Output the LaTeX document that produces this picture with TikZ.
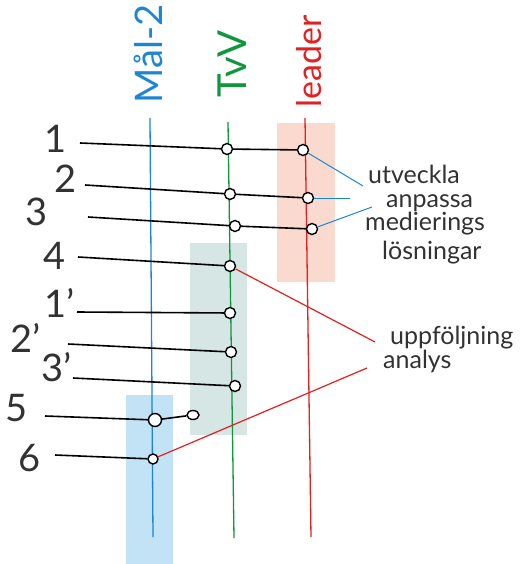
\documentclass[tikz,border=0pt]{standalone}
\usepackage{fontspec}
\setmainfont{Lato}
\usetikzlibrary{shapes.geometric}
\definecolor{malblue}{RGB}{28,134,212}
\definecolor{tvvgreen}{RGB}{16,150,60}
\definecolor{leadred}{RGB}{226,32,32}
\definecolor{leadbox}{RGB}{250,218,206}
\definecolor{tvvbox}{RGB}{214,230,228}
\definecolor{malbox}{RGB}{194,226,246}
\definecolor{inkgray}{RGB}{50,50,50}

\begin{document}
\begin{tikzpicture}[x=1pt, y=-1pt,
    every node/.style={text=inkgray},
    colhead/.style={rotate=90, inner sep=0},
    num/.style={font=\fontsize{38}{38}\selectfont, inner sep=0},
    word/.style={font=\fontsize{25}{25}\selectfont, inner sep=0, anchor=base west},
    dot/.style={circle, draw=black, fill=white, line width=1.4pt, inner sep=0, minimum size=11pt},
    ink/.style={draw=black, line width=1.6pt},
    rule/.style={line width=1.3pt},
    link/.style={malblue, line width=1pt},
    jump/.style={leadred, line width=1.2pt}]

\useasboundingbox (0,0) rectangle (530,564);

% shaded bands
\fill[leadbox] (277,123) rectangle (335,282);
\fill[tvvbox] (190,243) rectangle (247,435);
\fill[malbox] (126,395) rectangle (173,564);

% column heads
\node[colhead, text=malblue, font=\fontsize{38}{38}\selectfont] (mal) at (148,54) {Mål-2};
\node[colhead, text=tvvgreen, font=\fontsize{40}{40}\selectfont] (tvv) at (232,64) {TvV};
\node[colhead, text=leadred, font=\fontsize{34}{34}\selectfont] (lead) at (309,61) {leader};

% vertical lines
\coordinate (mtop) at (150,118);
\coordinate (mbot) at (153,537);
\coordinate (ttop) at (228,122);
\coordinate (tbot) at (234,538);
\coordinate (ltop) at (305,118);
\coordinate (lbot) at (311,537);
\draw[rule, malblue] (mtop) -- (mbot);
\draw[rule, tvvgreen] (ttop) -- (tbot);
\draw[rule, leadred] (ltop) -- (lbot);

% row numbers
\node[num] (n1) at (56,139) {1};
\node[num] (n2) at (66,179) {2};
\node[num] (n3) at (37,212) {3};
\node[num] (n4) at (55,256) {4};
\node[num] (n1p) at (60,303) {1’};
\node[num] (n2p) at (26,338) {2’};
\node[num] (n3p) at (57,367) {3’};
\node[num] (n5) at (17,408) {5};
\node[num] (n6) at (30,458) {6};

% line starts
\coordinate (s1) at (80,143);
\coordinate (s2) at (85,185);
\coordinate (s3) at (88,217);
\coordinate (s4) at (78,257);
\coordinate (s1p) at (77,312);
\coordinate (s2p) at (68,344);
\coordinate (s3p) at (73,378);
\coordinate (s5) at (45,416);
\coordinate (s6) at (55,455);

% dots
\node[dot] (g1) at (227,149) {};
\node[dot] (g2) at (230,194) {};
\node[dot] (g3) at (235,226) {};
\node[dot] (g4) at (230,266) {};
\node[dot] (g1p) at (230,313) {};
\node[dot] (g2p) at (231,352) {};
\node[dot] (g3p) at (235,386) {};
\node[dot] (r1) at (303,150) {};
\node[dot] (r2) at (308,198) {};
\node[dot] (r3) at (312,229) {};
\node[dot, minimum size=13pt] (b5) at (155,420) {};
\node[dot, ellipse, minimum width=12pt, minimum height=9pt] (c5) at (193,415) {};
\node[dot, minimum size=10pt] (b6) at (153,459) {};

% threads
\draw[ink] (s1) -- (g1) -- (r1);
\draw[ink] (s2) -- (g2) -- (r2);
\draw[ink] (s3) -- (g3) -- (r3);
\draw[ink] (s4) -- (g4);
\draw[ink] (s1p) -- (g1p);
\draw[ink] (s2p) -- (g2p);
\draw[ink] (s3p) -- (g3p);
\draw[ink] (s5) -- (b5) -- (c5);
\draw[ink] (s6) -- (b6);

% right hand words
\node[word] (w1) at (368,183) {utveckla};
\node[word] (w2) at (386,207) {anpassa};
\node[word] (w3) at (365,230) {medierings};
\node[word] (w4) at (382,259) {lösningar};
\node[word] (w5) at (390,344) {uppföljning};
\node[word] (w6) at (383,368) {analys};

% pointers
\coordinate (e1) at (363,186);
\coordinate (e2) at (350,198);
\coordinate (e3) at (372,207);
\coordinate (e4) at (375,342);
\coordinate (e6) at (367,368);
\draw[link] (r1) -- (e1);
\draw[link] (r2) -- (e2);
\draw[link] (r3) -- (e3);
\draw[jump] (g4) -- (e4);
\draw[jump] (b6) -- (e6);

\end{tikzpicture}
\end{document}
